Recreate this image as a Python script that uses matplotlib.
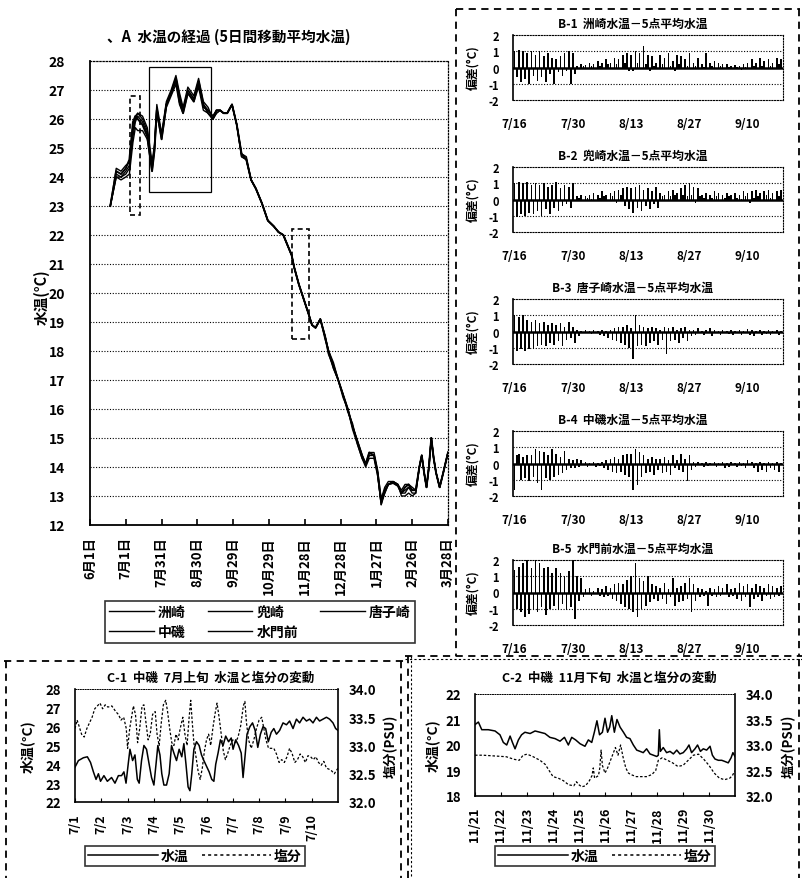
import numpy as np
import matplotlib
matplotlib.use('Agg')
import matplotlib.pyplot as plt
from matplotlib.patches import Rectangle
from matplotlib.lines import Line2D

plt.rcParams['font.family'] = ['Noto Sans CJK JP', 'DejaVu Sans']
plt.rcParams['font.weight'] = 'bold'

# ---------------- A: 5-day moving average water temperature ----------------
a_days = [17, 22, 26, 30, 33, 36, 38, 40, 44, 48, 52, 54, 56, 60, 64, 68, 72, 75, 78, 82,
          87, 91, 95, 99, 103, 106, 109, 112, 115, 119, 123, 127, 131, 135, 139, 144, 149, 154, 158, 162,
          166, 169, 171, 175, 179, 183, 186, 189, 193, 197, 200, 204, 208, 212, 216, 220, 224, 228, 231, 234,
          238, 241, 244, 247, 250, 254, 258, 261, 264, 267, 270, 273, 276, 278, 280, 282, 284, 286, 288, 290,
          293, 296, 300]
susaki = [23.0, 24.3, 24.2, 24.4, 24.5, 25.6, 26.0, 26.2, 26.0, 25.6, 24.3, 25.0, 26.4, 25.4, 26.5, 26.9, 27.4, 26.8, 26.3, 27.0,
          26.7, 27.3, 26.4, 26.3, 26.1, 26.3, 26.3, 26.2, 26.2, 26.5, 25.8, 24.8, 24.6, 23.9, 23.6, 23.1, 22.5, 22.3, 22.1, 22.0,
          21.6, 21.3, 20.9, 20.3, 19.8, 19.3, 18.9, 18.8, 19.1, 18.5, 18.0, 17.5, 17.0, 16.5, 16.0, 15.4, 14.9, 14.4, 14.1, 14.4,
          14.4, 13.8, 12.7, 13.1, 13.4, 13.45, 13.35, 13.1, 13.2, 13.3, 13.2, 13.2, 14.0, 14.4, 13.8, 13.3, 14.0, 15.0, 14.3, 13.8,
          13.3, 13.8, 14.5]
kabutozaki = [23.0, 24.0, 23.9, 24.0, 24.1, 25.2, 25.7, 25.6, 25.6, 25.3, 24.2, 24.9, 26.2, 25.3, 26.4, 26.8, 27.2, 26.5, 26.2, 26.9,
              26.6, 27.1, 26.3, 26.2, 26.0, 26.2, 26.3, 26.2, 26.2, 26.5, 25.8, 24.7, 24.6, 23.9, 23.6, 23.1, 22.5, 22.3, 22.1, 22.0,
              21.6, 21.3, 20.9, 20.3, 19.8, 19.3, 18.9, 18.8, 19.1, 18.5, 17.9, 17.4, 17.0, 16.4, 16.0, 15.3, 14.8, 14.3, 14.0, 14.3,
              14.3, 13.7, 12.8, 13.1, 13.4, 13.5, 13.4, 13.0, 13.0, 13.1, 13.0, 13.1, 14.0, 14.4, 13.8, 13.3, 14.0, 15.0, 14.3, 13.8,
              13.3, 13.8, 14.5]
karakozaki = [23.0, 24.0, 24.0, 24.1, 24.3, 25.8, 26.1, 26.2, 26.1, 25.7, 24.5, 25.1, 26.5, 25.5, 26.6, 27.0, 27.5, 26.9, 26.4, 27.1,
              26.8, 27.4, 26.6, 26.4, 26.0, 26.2, 26.3, 26.2, 26.2, 26.5, 25.8, 24.8, 24.7, 23.9, 23.6, 23.1, 22.5, 22.3, 22.1, 22.0,
              21.6, 21.3, 20.9, 20.3, 19.8, 19.3, 18.9, 18.8, 19.1, 18.4, 18.0, 17.6, 17.0, 16.5, 15.9, 15.5, 14.8, 14.3, 14.1, 14.5,
              14.5, 13.9, 12.9, 13.3, 13.5, 13.5, 13.4, 13.2, 13.4, 13.4, 13.3, 13.2, 14.0, 14.4, 13.8, 13.3, 14.0, 15.0, 14.3, 13.8,
              13.3, 13.8, 14.5]
nakaiso = [23.0, 24.1, 24.0, 24.2, 24.4, 25.4, 25.9, 26.1, 25.9, 25.5, 24.4, 25.0, 26.3, 25.4, 26.5, 26.9, 27.3, 26.7, 26.3, 27.0,
           26.7, 27.2, 26.5, 26.3, 26.1, 26.3, 26.3, 26.2, 26.2, 26.5, 25.8, 24.7, 24.6, 23.9, 23.6, 23.1, 22.5, 22.3, 22.1, 22.0,
           21.6, 21.3, 20.9, 20.3, 19.8, 19.3, 18.9, 18.8, 19.1, 18.5, 18.0, 17.4, 17.0, 16.5, 16.0, 15.4, 14.9, 14.4, 14.1, 14.4,
           14.4, 13.8, 12.7, 13.2, 13.4, 13.5, 13.4, 13.1, 13.1, 13.3, 13.1, 13.1, 14.0, 14.4, 13.8, 13.3, 14.0, 15.0, 14.3, 13.8,
           13.3, 13.8, 14.5]
suimonmae = [23.0, 24.2, 24.1, 24.3, 24.6, 25.9, 26.1, 26.0, 25.8, 25.4, 24.2, 24.9, 26.3, 25.3, 26.5, 26.9, 27.4, 26.6, 26.2, 26.9,
             26.6, 27.3, 26.5, 26.2, 26.0, 26.3, 26.3, 26.2, 26.2, 26.5, 25.8, 24.8, 24.6, 23.9, 23.6, 23.1, 22.5, 22.3, 22.1, 22.0,
             21.6, 21.3, 20.9, 20.3, 19.8, 19.3, 18.9, 18.8, 19.1, 18.5, 17.9, 17.5, 17.0, 16.5, 16.0, 15.4, 14.9, 14.4, 14.1, 14.5,
             14.4, 13.8, 12.8, 13.2, 13.4, 13.45, 13.35, 13.1, 13.3, 13.4, 13.2, 13.2, 14.0, 14.4, 13.8, 13.3, 14.0, 15.0, 14.3, 13.8,
             13.3, 13.8, 14.5]
a_tick_days = [0, 30, 60, 90, 120, 150, 180, 210, 240, 270, 300]
a_tick_labels = ['6月1日', '7月1日', '7月31日', '8月30日', '9月29日', '10月29日',
                 '11月28日', '12月28日', '1月27日', '2月26日', '3月28日']
# highlighted periods (day start, day end, temp low, temp high)
box_jul = (33.5, 42, 22.7, 26.8)
box_summer = (49.7, 101.4, 23.5, 27.8)
box_nov = (169, 183.8, 18.4, 22.2)

# ---------------- B: station minus 5-station mean (half-day steps from 7/16) ----------------
b1 = [1.0, -0.6, 1.1, -0.9, 1.0, -0.7, 0.9, -1.0, 1.0, -0.5, 0.8, -0.8, 1.0, -0.6, 0.7, -0.9, 0.9, -0.4, 0.6, -1.0, 0.5, -0.3, 0.7, -0.5, 0.9, -0.2, 1.0, -1.0,
      0.9, -0.4, 0.1, -0.05, 0.2, 0.1, 0.15, -0.05, 0.3, 0.1, 0.2, -0.05, 0.4, 0.1, 0.3, -0.1, 0.5, 0.2, 0.3, -0.1, 0.6, 0.2, 0.5, -0.1, 0.8, 0.3, 0.9, -0.2,
      0.8, -0.2, 1.0, 0.3, 0.9, -0.1, 1.3, 0.2, 0.8, -0.2, 0.7, 0.1, 0.3, -0.1, 0.8, 0.2, 0.6, -0.1, 0.9, 0.1, 0.4, -0.2, 0.8, 0.2, 0.7, -0.1, 0.5, 0.1,
      0.9, -0.1, 0.3, 0.1, 0.6, -0.1, 0.2, 0.05, 0.9, -0.1, 0.3, 0.1, 0.4, -0.1, 0.3, 0.1, 0.2, -0.05, 0.2, 0.05, 0.1, -0.1, 0.15, 0.05, 0.1, -0.15, 0.2, 0.05,
      0.3, -0.05, 0.5, 0.1, 0.3, -0.1, 0.6, 0.1, 0.4, -0.05, 0.5, 0.1, 0.3, -0.1, 0.6, 0.2, 0.5]
b2 = [1.0, -1.1, 1.1, -0.9, 1.0, -1.0, 1.1, -0.8, 0.9, -0.9, 1.0, -0.7, 0.9, -1.0, 1.0, -0.6, 0.8, -0.9, 0.9, -0.5, 1.1, -0.7, 0.7, -0.4, 0.9, -0.3, 0.8, -0.5,
      1.0, -0.1, 0.2, 0.1, 0.3, -0.05, 0.2, 0.1, 0.3, 0.05, 0.4, -0.1, 0.3, 0.1, 0.5, 0.2, 0.3, -0.1, 0.4, 0.2, 0.5, -0.2, 0.6, 0.3, 0.7, -0.4, 0.8, -0.6,
      0.7, -0.8, 0.8, -0.5, 0.9, -0.7, 0.6, -0.4, 0.7, -0.6, 0.5, -0.3, 0.8, -0.5, 0.4, 0.2, 0.3, -0.1, 0.5, 0.2, 0.6, 0.3, 0.4, -0.1, 0.7, 0.3, 0.9, 0.2,
      1.0, 0.3, 0.8, -0.2, 0.7, 0.2, 0.3, 0.1, 0.4, -0.1, 0.3, 0.1, 0.5, 0.2, 0.4, -0.1, 0.3, 0.1, 0.4, 0.2, 0.3, -0.1, 0.4, 0.1, 0.3, 0.05, 0.5, 0.2,
      0.4, -0.2, 0.5, 0.1, 0.6, 0.2, 0.4, -0.1, 0.5, 0.3, 0.6, 0.1, 0.4, -0.1, 0.5, 0.2, 0.6]
b3 = [1.0, -1.2, 0.9, -1.1, 1.0, -1.2, 0.7, -1.1, 0.6, -1.0, 0.7, -0.9, 0.5, -0.8, 0.6, -0.9, 0.4, -0.7, 0.5, -0.8, 0.4, -0.6, 0.5, -0.9, 0.3, -0.5, 0.6, -0.4,
      0.3, -0.7, 0.1, -0.3, 0.05, -0.1, 0.1, -0.1, 0.05, -0.15, 0.1, -0.05, 0.05, -0.2, 0.1, -0.3, 0.05, -0.4, 0.1, -0.5, 0.2, -0.6, 0.3, -0.7, 0.3, -0.8, 0.4, -1.0,
      0.2, -1.7, 1.0, -0.9, 0.4, -0.8, 0.3, -0.9, 0.2, -0.7, 0.3, -0.6, 0.2, -0.8, 0.1, -0.5, 0.3, -1.4, 0.2, -0.6, 0.3, -0.5, 0.1, -0.7, 0.2, -0.4, 0.3, -0.6,
      0.1, -0.3, 0.1, -0.2, 0.2, -0.1, 0.05, -0.2, 0.1, -0.1, 0.2, -0.3, 0.1, -0.1, 0.05, -0.2, 0.1, -0.1, 0.05, -0.15, 0.1, -0.2, 0.05, -0.1, 0.1, -0.2, 0.05, -0.1,
      0.15, -0.2, 0.1, -0.3, 0.05, -0.1, 0.1, -0.2, 0.05, -0.15, 0.1, -0.2, 0.05, -0.1, 0.1, -0.2, 0.05]
b4 = [-1.6, 0.5, 0.6, -1.0, 0.4, -0.9, 0.5, -1.1, 0.5, -0.8, 0.9, -1.2, 0.8, -1.6, 0.7, -0.9, 0.5, -1.0, 0.9, -0.8, 0.6, -0.7, 0.4, -0.6, 0.8, -0.4, 0.3, -0.3,
      0.2, -0.3, 0.3, -0.2, 0.2, -0.1, 0.1, -0.2, 0.05, -0.1, 0.1, -0.2, 0.05, -0.15, 0.1, -0.3, 0.2, -0.4, 0.3, -0.5, 0.4, -0.6, 0.3, -0.5, 0.5, -0.7, 0.6, -0.8,
      0.6, -1.6, 0.9, -1.3, 0.7, -0.8, 0.5, -0.6, 0.3, -0.5, 0.4, -0.7, 0.3, -0.4, 0.3, -0.6, 0.4, -0.5, 0.2, -0.7, 0.5, -0.3, 0.2, -0.4, 0.6, -0.5, 0.3, -1.1,
      0.5, -0.4, 0.1, -0.2, 0.1, -0.1, 0.05, -0.2, 0.1, -0.15, 0.05, -0.1, 0.1, -0.2, 0.05, -0.1, 0.1, -0.3, 0.05, -0.2, 0.1, -0.1, 0.05, -0.2, 0.1, -0.15, 0.05, -0.3,
      0.2, -0.1, 0.1, -0.3, 0.05, -0.5, 0.1, -0.4, 0.05, -0.5, 0.1, -0.3, 0.05, -0.4, 0.1, -0.5, 0.05]
b5 = [1.4, -1.0, 1.6, -1.2, 1.8, -1.5, 2.0, -1.3, 1.5, -1.0, 2.0, -1.2, 1.8, -0.9, 1.5, -1.4, 1.6, -1.0, 1.2, -0.8, 1.5, -1.1, 1.2, -0.7, 1.0, -1.1, 1.3, -0.9,
      2.0, -1.6, 1.0, -0.5, 0.9, -0.3, 0.2, -0.1, 0.3, -0.2, 0.1, -0.1, 0.3, -0.2, 0.2, -0.3, 0.4, -0.2, 0.3, -0.4, 0.5, -0.5, 0.6, -0.7, 0.5, -0.9, 0.8, -1.0,
      1.0, -1.2, 1.8, -1.5, 0.9, -1.0, 0.7, -0.8, 1.0, -0.6, 0.5, -0.4, 0.4, -0.5, 0.3, -0.4, 0.6, -0.7, 0.2, -0.3, 0.9, -0.8, 0.3, -0.6, 0.4, -0.5, 0.6, -0.4,
      0.9, -1.2, 0.5, -0.5, 0.3, -0.3, 0.2, -0.2, 0.1, -0.8, 0.3, -0.2, 0.2, -0.3, 0.4, -0.2, 0.3, -0.1, 0.5, -0.3, 0.2, -0.2, 0.3, -0.4, 0.6, -0.5, 0.4, -0.3,
      0.5, -0.9, 0.3, -0.4, 0.5, -0.3, 0.4, -0.5, 0.3, -0.2, 0.5, -0.4, 0.4, -0.3, 0.3, -0.2, 0.4]
b_titles = ['B-1  洲崎水温－5点平均水温', 'B-2  兜崎水温－5点平均水温', 'B-3  唐子崎水温－5点平均水温',
            'B-4  中磯水温－5点平均水温', 'B-5  水門前水温－5点平均水温']
b_tick_days = [0, 14, 28, 42, 56]
b_tick_labels = ['7/16', '7/30', '8/13', '8/27', '9/10']

# ---------------- C-1: Nakaiso, early July (days from 7/1) ----------------
c1_t = [0.00, 0.13, 0.32, 0.47, 0.59, 0.70, 0.80, 0.89, 0.97, 1.10, 1.23, 1.39, 1.52, 1.65, 1.77, 1.86, 1.94, 2.03, 2.09, 2.19,
        2.28, 2.37, 2.44, 2.53, 2.62, 2.72, 2.82, 2.91, 3.00, 3.08, 3.15, 3.23, 3.30, 3.38, 3.48, 3.58, 3.67, 3.76, 3.86, 3.96,
        4.06, 4.14, 4.22, 4.30, 4.37, 4.44, 4.52, 4.62, 4.72, 4.81, 4.90, 5.00, 5.10, 5.20, 5.28, 5.35, 5.44, 5.53, 5.63, 5.73,
        5.84, 5.94, 6.01, 6.11, 6.22, 6.32, 6.39, 6.47, 6.54, 6.65, 6.75, 6.85, 6.95, 7.05, 7.15, 7.25, 7.35, 7.46, 7.56, 7.66,
        7.78, 7.91, 8.04, 8.16, 8.29, 8.42, 8.54, 8.67, 8.80, 8.92, 9.05, 9.18, 9.30, 9.43, 9.56, 9.68, 9.81, 9.91, 10.0]
c1_temp = [23.85, 24.2, 24.35, 24.4, 24.1, 23.6, 23.2, 23.5, 23.1, 23.4, 23.1, 23.3, 23.0, 23.4, 23.4, 23.6, 23.0, 24.1, 24.8, 24.2,
           24.5, 23.2, 23.0, 24.2, 25.0, 24.8, 24.0, 23.3, 22.9, 24.0, 25.0, 24.5, 23.5, 22.9, 22.9, 23.5, 25.0, 24.6, 24.2, 24.8,
           24.4, 25.1, 24.0, 22.8, 22.6, 23.5, 24.8, 25.2, 25.0, 24.5, 24.2, 23.9, 23.6, 23.2, 23.1, 24.0, 24.6, 25.3, 25.0, 25.5,
           25.2, 25.4, 24.8, 25.3, 25.0, 24.6, 23.3, 24.5, 25.6, 26.0, 26.2, 25.8, 24.9, 25.6, 26.0, 25.9, 25.2, 25.7, 25.9, 25.6,
           25.8, 26.2, 26.1, 26.3, 25.9, 26.4, 26.2, 26.5, 26.3, 26.4, 26.2, 26.5, 26.3, 26.4, 26.5, 26.4, 26.2, 25.9, 25.8]
c1_st = [0.00, 0.08, 0.15, 0.25, 0.35, 0.45, 0.55, 0.65, 0.75, 0.85, 0.95, 1.05, 1.15, 1.25, 1.40, 1.55, 1.65, 1.75, 1.85, 1.95,
         2.00, 2.08, 2.15, 2.22, 2.30, 2.38, 2.46, 2.55, 2.62, 2.70, 2.78, 2.86, 2.95, 3.05, 3.12, 3.20, 3.28, 3.36, 3.45, 3.52,
         3.60, 3.68, 3.76, 3.84, 3.92, 4.00, 4.10, 4.18, 4.26, 4.34, 4.40, 4.46, 4.52, 4.60, 4.68, 4.76, 4.84, 4.92, 5.00, 5.08,
         5.16, 5.24, 5.32, 5.40, 5.48, 5.56, 5.64, 5.72, 5.80, 5.90, 6.00, 6.10, 6.20, 6.30, 6.40, 6.46, 6.52, 6.60, 6.70, 6.80,
         6.90, 7.00, 7.10, 7.18, 7.26, 7.36, 7.46, 7.56, 7.66, 7.76, 7.86, 7.96, 8.06, 8.16, 8.26, 8.36, 8.46, 8.56, 8.66, 8.76,
         8.86, 8.96, 9.06, 9.16, 9.26, 9.36, 9.46, 9.56, 9.66, 9.76, 9.86, 10.0]
c1_sal = [33.3, 33.45, 33.35, 33.2, 33.15, 33.3, 33.4, 33.5, 33.65, 33.7, 33.75, 33.65, 33.72, 33.68, 33.7, 33.6, 33.55, 33.45, 33.5, 33.3,
          32.95, 33.3, 33.5, 33.7, 33.55, 33.05, 33.3, 33.7, 33.72, 33.4, 33.1, 33.2, 33.55, 33.6, 33.2, 33.0, 33.4, 33.72, 33.8, 33.6,
          33.3, 33.05, 33.0, 33.2, 33.1, 33.3, 33.5, 33.2, 33.0, 33.5, 33.8, 33.4, 33.05, 32.8, 32.55, 32.4, 32.6, 32.9, 33.1, 33.2,
          33.0, 33.3, 33.55, 33.75, 33.5, 33.2, 32.9, 32.75, 32.85, 33.0, 33.1, 33.05, 33.15, 33.35, 33.7, 33.78, 33.4, 33.1, 32.95, 33.1,
          33.3, 33.45, 33.5, 33.3, 33.1, 32.95, 32.95, 32.95, 32.85, 32.7, 32.75, 32.7, 32.8, 32.95, 32.85, 32.7, 32.75, 32.85, 32.8, 32.7,
          32.82, 32.8, 32.75, 32.8, 32.7, 32.65, 32.72, 32.6, 32.58, 32.55, 32.5, 32.6]
c1_labels = ['7/1', '7/2', '7/3', '7/4', '7/5', '7/6', '7/7', '7/8', '7/9', '7/10']

# ---------------- C-2: Nakaiso, late November (days from 11/21) ----------------
c2_t = [0.00, 0.13, 0.26, 0.51, 0.77, 0.96, 1.09, 1.22, 1.35, 1.44, 1.54, 1.67, 1.79, 1.92, 2.12, 2.31, 2.50, 2.69, 2.88, 3.08,
        3.27, 3.44, 3.59, 3.72, 3.87, 4.04, 4.23, 4.36, 4.49, 4.59, 4.69, 4.79, 4.90, 5.00, 5.10, 5.18, 5.26, 5.36, 5.46, 5.58,
        5.71, 5.83, 5.96, 6.09, 6.22, 6.35, 6.47, 6.60, 6.73, 6.86, 6.99, 7.05, 7.09, 7.13, 7.24, 7.37, 7.50, 7.63, 7.76, 7.88,
        8.01, 8.14, 8.23, 8.33, 8.46, 8.56, 8.67, 8.78, 8.91, 9.04, 9.13, 9.23, 9.36, 9.49, 9.62, 9.74, 9.85, 9.92, 10.0]
c2_temp = [20.8, 20.9, 20.6, 20.6, 20.55, 20.4, 20.1, 20.0, 20.35, 20.1, 19.85, 20.2, 20.4, 20.5, 20.45, 20.55, 20.5, 20.45, 20.3, 20.25,
           20.15, 20.3, 20.0, 20.3, 20.2, 20.05, 19.95, 20.2, 20.1, 20.5, 20.95, 20.4, 20.5, 21.05, 20.5, 20.7, 21.15, 20.5, 21.0, 20.7,
           20.5, 20.3, 20.25, 20.0, 19.8, 19.75, 19.7, 19.85, 19.65, 19.6, 19.55, 19.6, 20.6, 19.75, 19.9, 19.7, 19.75, 19.65, 19.8, 19.65,
           19.7, 19.85, 20.0, 19.7, 19.85, 20.0, 19.75, 19.85, 19.8, 19.95, 19.6, 19.45, 19.4, 19.4, 19.35, 19.3, 19.5, 19.7, 19.55]
c2_st = [0.0, 0.3, 0.6, 0.9, 1.2, 1.5, 1.7, 1.85, 2.0, 2.2, 2.5, 2.7, 2.85, 3.0, 3.2, 3.4, 3.6, 3.8, 3.9, 4.0,
         4.1, 4.25, 4.4, 4.5, 4.55, 4.6, 4.75, 4.8, 4.85, 4.9, 5.0, 5.1, 5.25, 5.4, 5.5, 5.6, 5.7, 5.8, 5.9, 6.0,
         6.2, 6.4, 6.6, 6.8, 6.95, 7.05, 7.2, 7.4, 7.6, 7.8, 8.0, 8.2, 8.4, 8.6, 8.8, 9.0, 9.2, 9.4, 9.6, 9.8,
         9.9, 10.0]
c2_sal = [32.8, 32.8, 32.79, 32.78, 32.77, 32.72, 32.7, 32.8, 32.82, 32.78, 32.7, 32.62, 32.5, 32.38, 32.35, 32.3, 32.22, 32.2, 32.28, 32.22,
          32.18, 32.2, 32.3, 32.4, 32.55, 32.35, 32.4, 32.55, 32.9, 32.6, 32.45, 32.55, 32.75, 32.95, 32.8, 33.0, 32.75, 32.55, 32.45, 32.42,
          32.38, 32.38, 32.38, 32.42, 32.5, 32.7, 32.75, 32.7, 32.65, 32.58, 32.6, 32.7, 32.8, 32.82, 32.72, 32.6, 32.45, 32.35, 32.32, 32.35,
          32.4, 32.5]
c2_labels = ['11/21', '11/22', '11/23', '11/24', '11/25', '11/26', '11/27', '11/28', '11/29', '11/30']

W, H = 803, 879
fig = plt.figure(figsize=(W / 100, H / 100), dpi=100)


def rect(l, t, r, b):
    return [l / W, 1 - b / H, (r - l) / W, (b - t) / H]


def ftext(x, y, s, **kw):
    fig.text(x / W, 1 - y / H, s, **kw)


# dashed frames around the panels
ov = fig.add_axes([0, 0, 1, 1], zorder=-5)
ov.set_xlim(0, W)
ov.set_ylim(H, 0)
ov.axis('off')
frame = dict(color='black', lw=1.3, ls=(0, (4, 3)))
ov.plot([456, 456], [10, 657], **frame)
ov.plot([456, 800], [10, 10], **frame)
ov.plot([799, 799], [10, 657], **frame)
ov.plot([405, 803], [657, 657], **frame)
ov.plot([405, 803], [660, 660], color='black', lw=0.8, ls=(0, (2, 2)))
ov.plot([4, 405], [662, 662], **frame)
ov.plot([6, 6], [662, 879], **frame)
ov.plot([401, 401], [662, 879], **frame)
ov.plot([408, 408], [657, 879], **frame)
ov.plot([411, 411], [657, 879], color='black', lw=0.8, ls=(0, (2, 2)))
ov.plot([799, 799], [660, 879], **frame)

# ---------------- panel A ----------------
ax = fig.add_axes(rect(90, 62, 448, 526))
series = [('洲崎', susaki, 1.0), ('兜崎', kabutozaki, 1.0), ('唐子崎', karakozaki, 1.0),
          ('中磯', nakaiso, 1.0), ('水門前', suimonmae, 1.4)]
handles = {}
for name, vals, lw in series:
    h, = ax.plot(a_days, vals, color='black', lw=lw)
    handles[name] = h
ax.set_xlim(0, 300)
ax.set_ylim(12, 28)
ax.set_yticks(range(12, 29))
ax.set_yticklabels([str(v) for v in range(12, 29)], fontsize=10, fontweight='bold')
ax.set_xticks(a_tick_days)
ax.set_xticklabels(a_tick_labels, rotation=90, fontsize=9.5, fontweight='bold', va='top')
ax.tick_params(axis='x', direction='in', length=4, width=1.2, pad=8)
ax.tick_params(axis='y', length=0, pad=18)
for v in range(13, 28):
    ax.axhline(v, color='black', lw=0.8, ls=(0, (1, 1.5)))
ax.spines['left'].set_linewidth(1.3)
ax.spines['bottom'].set_linewidth(1.3)
ax.spines['top'].set_linestyle((0, (1, 1.5)))
ax.spines['top'].set_linewidth(0.9)
ax.spines['right'].set_linestyle((0, (1, 1.5)))
ax.spines['right'].set_linewidth(0.9)
for (x0, x1, y0, y1), ls in [(box_jul, (0, (3, 2))), (box_summer, '-'), (box_nov, (0, (3, 2)))]:
    ax.add_patch(Rectangle((x0, y0), x1 - x0, y1 - y0, fill=False, ec='black',
                           lw=1.2 if ls != '-' else 0.9, ls=ls))
order = ['洲崎', '中磯', '兜崎', '水門前', '唐子崎']
leg = ax.legend([handles[k] for k in order], order, loc='center', ncol=3,
                bbox_to_anchor=(260 / W, 1 - 623 / H), bbox_transform=fig.transFigure,
                frameon=True, fancybox=False, edgecolor='black', handlelength=3.2,
                columnspacing=1.6, handletextpad=0.3, borderpad=0.3, labelspacing=0.4,
                prop={'size': 10, 'weight': 'bold'})
leg.get_frame().set_linewidth(1.2)
for lh in leg.get_lines():
    lh.set_linewidth(1.0)
ftext(229, 37, '、A  水温の経過 (5日間移動平均水温)', ha='center', va='center', fontsize=10.5, fontweight='bold')
ftext(42, 297, '水温(°C)', ha='center', va='center', rotation=90, fontsize=10.5, fontweight='bold')

# ---------------- panels B ----------------
b_data = [b1, b2, b3, b4, b5]
b_tops = [36, 168, 300, 432, 561]
for vals, title, top in zip(b_data, b_titles, b_tops):
    bx = fig.add_axes(rect(513, top, 783, top + 65))
    xs = np.arange(len(vals)) * 0.5
    bx.bar(xs, vals, width=0.38, color='black')
    bx.axhline(0, color='black', lw=1.8)
    for v in (1, -1):
        bx.axhline(v, color='black', lw=0.8, ls=(0, (1, 1.5)))
    bx.set_xlim(-0.4, 64.5)
    bx.set_ylim(-2, 2)
    bx.set_yticks([2, 1, 0, -1, -2])
    bx.set_yticklabels(['2', '1', '0', '-1', '-2'], fontsize=8, fontweight='bold')
    bx.set_xticks(b_tick_days)
    bx.set_xticklabels(b_tick_labels, fontsize=8.5, fontweight='bold')
    bx.tick_params(length=0)
    bx.tick_params(axis='x', pad=12)
    bx.tick_params(axis='y', pad=10)
    bx.spines['left'].set_linewidth(1.2)
    for s in ('top', 'bottom', 'right'):
        bx.spines[s].set_linestyle((0, (1, 1.5)))
        bx.spines[s].set_linewidth(0.8)
    ftext(633, top - 12, title, ha='center', va='center', fontsize=8.5, fontweight='bold')
    ftext(474, top + 32, '偏差(°C)', ha='center', va='center', rotation=90, fontsize=8.5, fontweight='bold')


# ---------------- panels C ----------------
def c_panel(box, t, temp, st, sal, tlim, labels, title, tx, lab_x, rlab_x, legc):
    l, tp, r, b = box
    cx = fig.add_axes(rect(l, tp, r, b))
    cx.plot(t, temp, color='black', lw=1.1)
    cx.set_xlim(0, 10)
    cx.set_ylim(*tlim)
    cx.set_yticks(range(tlim[0], tlim[1] + 1))
    cx.set_yticklabels([str(v) for v in range(tlim[0], tlim[1] + 1)], fontsize=9.5, fontweight='bold')
    cx.set_xticks(range(10))
    cx.set_xticklabels(labels, rotation=90, fontsize=9, fontweight='bold', va='top')
    cx.tick_params(axis='x', direction='in', length=3, pad=8)
    cx.tick_params(axis='y', length=0, pad=10)
    cx.spines['top'].set_linestyle((0, (1, 1.5)))
    cx.spines['top'].set_linewidth(0.7)
    for s in ('left', 'bottom', 'right'):
        cx.spines[s].set_linewidth(1.2)
    sx = cx.twinx()
    sx.plot(st, sal, color='black', lw=0.9, ls=(0, (2, 1.5)))
    sx.set_ylim(32, 34)
    sx.set_yticks([32.0, 32.5, 33.0, 33.5, 34.0])
    sx.set_yticklabels(['32.0', '32.5', '33.0', '33.5', '34.0'], fontsize=9.5, fontweight='bold')
    sx.tick_params(axis='y', length=0, pad=8)
    for s in sx.spines.values():
        s.set_visible(False)
    ftext(tx, 678, title, ha='center', va='center', fontsize=9, fontweight='bold')
    ftext(lab_x, (tp + b) / 2, '水温(°C)', ha='center', va='center', rotation=90, fontsize=10, fontweight='bold')
    ftext(rlab_x, (tp + b) / 2, '塩分(PSU)', ha='center', va='center', rotation=90, fontsize=9.5, fontweight='bold')
    h1 = Line2D([], [], color='black', lw=1.1)
    h2 = Line2D([], [], color='black', lw=1.1, ls=(0, (2, 2)))
    lg = cx.legend([h1, h2], ['水温', '塩分'], loc='center', ncol=2,
                   bbox_to_anchor=(legc / W, 1 - 857 / H), bbox_transform=fig.transFigure,
                   frameon=True, fancybox=False, edgecolor='black', handlelength=5.0,
                   handletextpad=0.2, columnspacing=1.0, borderpad=0.2,
                   prop={'size': 10, 'weight': 'bold'})
    lg.get_frame().set_linewidth(1.2)


c_panel((75, 690, 338, 803), c1_t, c1_temp, c1_st, c1_sal, (22, 28), c1_labels,
        'C-1  中磯  7月上旬  水温と塩分の変動', 211, 28, 391, 195)
c_panel((475, 695, 735, 797), c2_t, c2_temp, c2_st, c2_sal, (18, 22), c2_labels,
        'C-2  中磯  11月下旬  水温と塩分の変動', 609, 432, 789, 605)

fig.savefig('out.png', dpi=100)
